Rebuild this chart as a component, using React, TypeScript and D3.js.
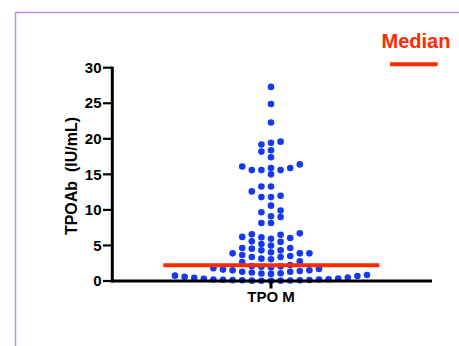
import React from "react";
import * as d3 from "d3";

const category = "TPO M";
const yLabel = "TPOAb\u00a0\u00a0(IU/mL)";
const legendLabel = "Median";
const yTicks = [0, 5, 10, 15, 20, 25, 30];
const medianValue = 2.2;

const highValues = [
  27.3, 24.9, 22.3, 19.6, 19.45, 19.2, 18.4, 18.2, 17.4, 16.4, 16.1, 15.9, 15.9,
  15.6, 15.6, 15.6, 15.0, 13.3, 13.3, 12.6, 12.0, 11.8, 11.8, 10.6, 9.9, 9.66,
  9.1, 9.0, 8.16, 8.16, 6.7, 6.56, 6.5, 6.2, 6.14, 6.05, 5.95, 5.58, 5.5, 5.2,
  5.0, 4.64, 4.64, 4.55, 4.31, 4.31, 4.03, 3.89, 3.89, 3.89, 3.66, 3.52, 3.38,
  3.38, 3.14, 3.05,
];
const midValues = [
  2.77, 2.67, 2.25, 2.1, 2.06, 2.0, 1.9, 1.8, 1.7, 1.6, 1.5, 1.5, 1.4, 1.3, 1.3,
  1.2, 1.1, 1.05, 1.0,
];
const lowValues = [
  0.02, 0.03, 0.05, 0.05, 0.08, 0.1, 0.1, 0.12, 0.15, 0.18, 0.2, 0.22, 0.25,
  0.3, 0.35, 0.45, 0.5, 0.6, 0.7, 0.75, 0.84,
];

const values = [...highValues, ...midValues, ...lowValues];

const W = 459;
const H = 346;
const x0 = 112.3;
const x1 = 432;
const yTop = 67.7;
const yBottom = 281;
const centerX = 271;
const colSpacing = 9.6;
const r = 3.3;
const minDist = 6.3;

const y = d3.scaleLinear().domain([0, 30]).range([yBottom, yTop]);
const xBand = d3.scalePoint<string>().domain([category]).range([centerX, centerX]);

function beeswarm(vals: number[]) {
  const sorted = [...vals].sort((a, b) => a - b);
  const placed: { col: number; py: number; v: number }[] = [];
  for (const v of sorted) {
    const py = y(v);
    for (let k = 0; k < 80; k++) {
      const col = k === 0 ? 0 : k % 2 === 1 ? -Math.ceil(k / 2) : Math.ceil(k / 2);
      const ok = placed
        .filter((p) => p.col === col)
        .every((p) => Math.abs(p.py - py) >= minDist);
      if (ok) {
        placed.push({ col, py, v });
        break;
      }
    }
  }
  return placed;
}

export default function App() {
  const pts = beeswarm(values);
  const cx = xBand(category) as number;
  const red = "#ff2a00";
  const blue = "#1538f5";
  const font = "'Liberation Sans', Arial, Helvetica, sans-serif";
  return (
    <svg
      width={W}
      height={H}
      style={{ position: "absolute", left: 0, top: 0, background: "#fff" }}
      fontFamily={font}
    >
      <rect x={15.5} y={12.5} width={W} height={H} fill="none" stroke="#c48af2" strokeWidth={1.5} />
      {pts.map((p, i) => (
        <circle key={i} cx={cx + p.col * colSpacing} cy={p.py} r={r} fill={blue} />
      ))}
      {/* y axis */}
      <line x1={x0} x2={x0} y1={yTop - 1} y2={yBottom + 1.5} stroke="#000" strokeWidth={3} />
      {yTicks.map((t) => (
        <g key={t}>
          <line x1={103} x2={x0} y1={y(t)} y2={y(t)} stroke="#000" strokeWidth={2.2} />
          <text x={101.5} y={y(t) + 5.2} textAnchor="end" fontSize={15} fontWeight="bold">
            {t}
          </text>
        </g>
      ))}
      {/* x axis */}
      <line x1={x0 - 1.5} x2={x1} y1={yBottom} y2={yBottom} stroke="#000" strokeWidth={3.2} />
      <line x1={cx} x2={cx} y1={yBottom} y2={288.5} stroke="#000" strokeWidth={3} />
      <text x={cx} y={302} textAnchor="middle" fontSize={15} fontWeight="bold">
        {category}
      </text>
      {/* median */}
      <line x1={163.3} x2={379.3} y1={y(medianValue)} y2={y(medianValue)} stroke={red} strokeWidth={4} />
      {/* y label */}
      <text
        transform={`translate(76.5,176) rotate(-90)`}
        textAnchor="middle"
        fontSize={16}
        fontWeight="bold"
      >
        {yLabel}
      </text>
      {/* legend */}
      <text x={381.5} y={48.3} fontSize={20} fontWeight="bold" fill={red}>
        {legendLabel}
      </text>
      <line x1={390} x2={437.7} y1={64.3} y2={64.3} stroke={red} strokeWidth={4} />
    </svg>
  );
}
